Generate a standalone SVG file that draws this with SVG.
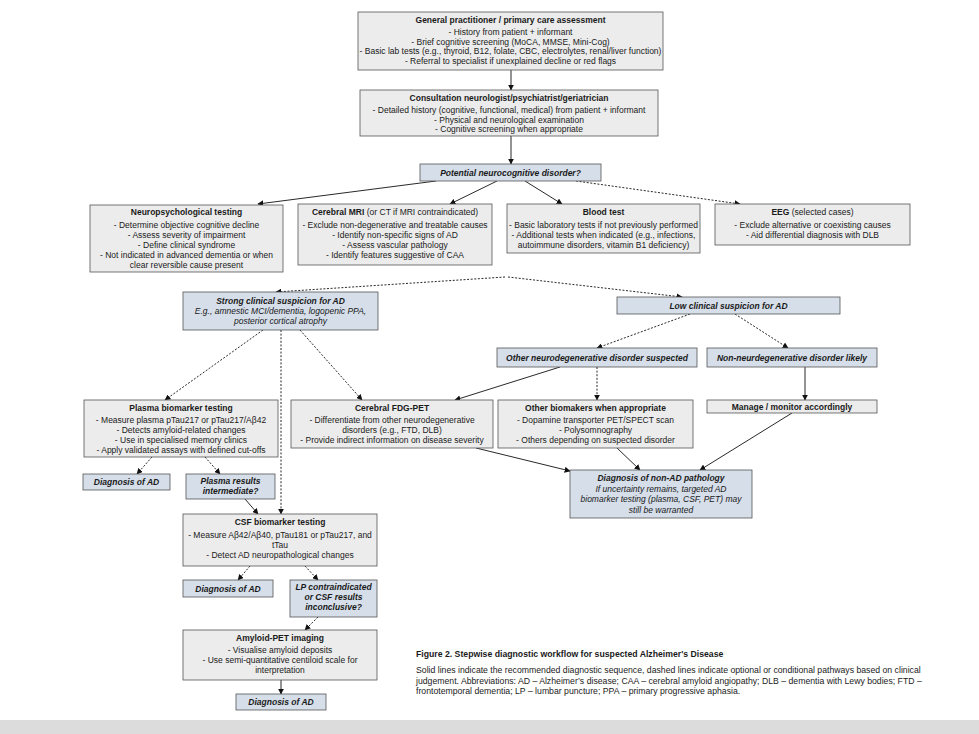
<svg xmlns="http://www.w3.org/2000/svg" width="979" height="734" viewBox="0 0 979 734">
<defs>
<marker id="ah" viewBox="0 0 10 10" refX="9" refY="5" markerWidth="6" markerHeight="6" markerUnits="userSpaceOnUse" orient="auto">
<path d="M0,0 L10,5 L0,10 z" fill="#111"/>
</marker>
<style>
.box{fill:#ececec;stroke:#555;stroke-width:0.8}
.bbox{fill:#d5dee9;stroke:#555;stroke-width:0.8}
.t{font-family:"Liberation Sans",Arial,Helvetica,sans-serif;font-size:8.5px;fill:#1a1a1a;text-anchor:middle}
.b{font-weight:bold}
.i{font-style:italic}
.cap{font-family:"Liberation Sans",Arial,Helvetica,sans-serif;font-size:8.7px;fill:#1a1a1a}
.ln{stroke:#111;stroke-width:0.9;fill:none;marker-end:url(#ah)}
.d{stroke-dasharray:2,1.6}
</style>
</defs>
<rect width="979" height="734" fill="#fff"/>
<rect x="0" y="720" width="979" height="14" fill="#dcdcdc"/>

<g id="connectors">
<line class="ln" x1="511" y1="70" x2="511" y2="90"/>
<line class="ln" x1="511" y1="136" x2="511" y2="164"/>
<line class="ln" x1="436" y1="181" x2="258" y2="204"/>
<line class="ln" x1="497" y1="181" x2="450" y2="204"/>
<line class="ln" x1="525" y1="181" x2="562" y2="204"/>
<line class="ln d" x1="576" y1="181" x2="740" y2="204"/>
<line class="ln d" x1="505" y1="277" x2="276" y2="292"/>
<line class="ln d" x1="508" y1="277" x2="682" y2="297"/>
<line class="ln d" x1="690" y1="314" x2="597" y2="348"/>
<line class="ln d" x1="735" y1="314" x2="788" y2="348"/>
<line class="ln d" x1="263" y1="330" x2="165" y2="400"/>
<line class="ln d" x1="281" y1="330" x2="281" y2="514"/>
<line class="ln d" x1="300" y1="330" x2="362" y2="400"/>
<line class="ln" x1="560" y1="367" x2="455" y2="400"/>
<line class="ln d" x1="597" y1="367" x2="597" y2="400"/>
<line class="ln" x1="805" y1="367" x2="805" y2="400"/>
<line class="ln" x1="476" y1="448" x2="570" y2="471"/>
<line class="ln" x1="617" y1="448" x2="640" y2="470"/>
<line class="ln" x1="792" y1="413" x2="700" y2="470"/>
<line class="ln d" x1="152" y1="457" x2="137" y2="474"/>
<line class="ln d" x1="205" y1="457" x2="220" y2="474"/>
<line class="ln" x1="245" y1="499" x2="258" y2="514"/>
<line class="ln d" x1="250" y1="566" x2="238" y2="580"/>
<line class="ln d" x1="305" y1="566" x2="318" y2="580"/>
<line class="ln d" x1="318" y1="617" x2="305" y2="630"/>
<line class="ln" x1="281" y1="680" x2="281" y2="694"/>
</g>

<g id="gp">
<rect class="box" x="358" y="12" width="305" height="58"/>
<text class="t b" x="510.5" y="23">General practitioner / primary care assessment</text>
<text class="t" x="510.5" y="35">- History from patient + informant</text>
<text class="t" x="510.5" y="44.5">- Brief cognitive screening (MoCA, MMSE, Mini-Cog)</text>
<text class="t" x="510.5" y="54">- Basic lab tests (e.g., thyroid, B12, folate, CBC, electrolytes, renal/liver function)</text>
<text class="t" x="510.5" y="63.5">- Referral to specialist if unexplained decline or red flags</text>
</g>

<g id="consult">
<rect class="box" x="360" y="90" width="298" height="46"/>
<text class="t b" x="509" y="101">Consultation neurologist/psychiatrist/geriatrician</text>
<text class="t" x="509" y="113">- Detailed history (cognitive, functional, medical) from patient + informant</text>
<text class="t" x="509" y="122.5">- Physical and neurological examination</text>
<text class="t" x="509" y="132">- Cognitive screening when appropriate</text>
</g>

<g id="potential">
<rect class="bbox" x="420" y="164" width="181" height="17"/>
<text class="t b i" x="510.5" y="175.5">Potential neurocognitive disorder?</text>
</g>

<g id="neuropsych">
<rect class="box" x="90" y="205" width="193" height="67"/>
<text class="t b" x="186.5" y="215">Neuropsychological testing</text>
<text class="t" x="186.5" y="228">- Determine objective cognitive decline</text>
<text class="t" x="186.5" y="238">- Assess severity of impairment</text>
<text class="t" x="186.5" y="248">- Define clinical syndrome</text>
<text class="t" x="186.5" y="258">- Not indicated in advanced dementia or when</text>
<text class="t" x="186.5" y="268">clear reversible cause present</text>
</g>

<g id="mri">
<rect class="box" x="298" y="204" width="194" height="61"/>
<text class="t" x="395" y="215"><tspan class="b">Cerebral MRI</tspan> (or CT if MRI contraindicated)</text>
<text class="t" x="395" y="228">- Exclude non-degenerative and treatable causes</text>
<text class="t" x="395" y="238">- Identify non-specific signs of AD</text>
<text class="t" x="395" y="248">- Assess vascular pathology</text>
<text class="t" x="395" y="258">- Identify features suggestive of CAA</text>
</g>

<g id="blood">
<rect class="box" x="507" y="204" width="193" height="49"/>
<text class="t b" x="603.5" y="215">Blood test</text>
<text class="t" x="603.5" y="228">- Basic laboratory tests if not previously performed</text>
<text class="t" x="603.5" y="238">- Additional tests when indicated (e.g., infections,</text>
<text class="t" x="603.5" y="248">autoimmune disorders, vitamin B1 deficiency)</text>
</g>

<g id="eeg">
<rect class="box" x="715" y="204" width="195" height="41"/>
<text class="t" x="812.5" y="215"><tspan class="b">EEG</tspan> (selected cases)</text>
<text class="t" x="812.5" y="228">- Exclude alternative or coexisting causes</text>
<text class="t" x="812.5" y="238">- Aid differential diagnosis with DLB</text>
</g>

<g id="strong">
<rect class="bbox" x="183" y="292" width="195" height="38"/>
<text class="t b i" x="280.5" y="303.5">Strong clinical suspicion for AD</text>
<text class="t i" x="280.5" y="314">E.g., amnestic MCI/dementia, logopenic PPA,</text>
<text class="t i" x="280.5" y="324">posterior cortical atrophy</text>
</g>

<g id="low">
<rect class="bbox" x="617" y="297" width="223" height="17"/>
<text class="t b i" x="728.5" y="308.5">Low clinical suspicion for AD</text>
</g>

<g id="otherneuro">
<rect class="bbox" x="497" y="348" width="200" height="19"/>
<text class="t b i" x="597" y="360.5">Other  neurodegenerative disorder suspected</text>
</g>

<g id="nonneuro">
<rect class="bbox" x="707" y="348" width="170" height="19"/>
<text class="t b i" x="792" y="360.5">Non-neurdegenerative disorder likely</text>
</g>

<g id="plasma">
<rect class="box" x="84" y="400" width="194" height="57"/>
<text class="t b" x="181" y="410.5">Plasma biomarker testing</text>
<text class="t" x="181" y="423">-  Measure plasma pTau217 or pTau217/Aβ42</text>
<text class="t" x="181" y="433">- Detects amyloid-related changes</text>
<text class="t" x="181" y="443">- Use in specialised memory clinics</text>
<text class="t" x="181" y="453">- Apply validated assays with defined cut-offs</text>
</g>

<g id="fdg">
<rect class="box" x="291" y="400" width="202" height="48"/>
<text class="t b" x="392" y="410.5">Cerebral FDG-PET</text>
<text class="t" x="392" y="423">- Differentiate from other neurodegenerative</text>
<text class="t" x="392" y="433">disorders (e.g., FTD, DLB)</text>
<text class="t" x="392" y="443">- Provide indirect information on disease severity</text>
</g>

<g id="otherbio">
<rect class="box" x="498" y="400" width="195" height="48"/>
<text class="t b" x="595.5" y="410.5">Other biomakers when appropriate</text>
<text class="t" x="595.5" y="423">- Dopamine transporter PET/SPECT scan</text>
<text class="t" x="595.5" y="433">- Polysomnography</text>
<text class="t" x="595.5" y="443">- Others depending on suspected disorder</text>
</g>

<g id="manage">
<rect class="box" x="707" y="400" width="170" height="13"/>
<text class="t b" x="792" y="409.8">Manage / monitor accordingly</text>
</g>

<g id="nonad">
<rect class="bbox" x="570" y="470" width="182" height="48"/>
<text class="t b i" x="661" y="481">Diagnosis of non-AD pathology</text>
<text class="t i" x="661" y="491.5">If uncertainty remains, targeted AD</text>
<text class="t i" x="661" y="502">biomarker testing (plasma, CSF, PET) may</text>
<text class="t i" x="661" y="512.5">still be warranted</text>
</g>

<g id="diagad1">
<rect class="bbox" x="83" y="474" width="87" height="16"/>
<text class="t b i" x="126.5" y="485">Diagnosis of AD</text>
</g>

<g id="plasmaint">
<rect class="bbox" x="186" y="474" width="89" height="25"/>
<text class="t b i" x="230.5" y="484">Plasma results</text>
<text class="t b i" x="230.5" y="494">intermediate?</text>
</g>

<g id="csf">
<rect class="box" x="183" y="514" width="194" height="52"/>
<text class="t b" x="280" y="525">CSF biomarker testing</text>
<text class="t" x="280" y="538">- Measure Aβ42/Aβ40, pTau181 or pTau217, and</text>
<text class="t" x="280" y="548">tTau</text>
<text class="t" x="280" y="558">- Detect AD neuropathological changes</text>
</g>

<g id="diagad2">
<rect class="bbox" x="183" y="580" width="90" height="17"/>
<text class="t b i" x="228" y="591.5">Diagnosis of AD</text>
</g>

<g id="lp">
<rect class="bbox" x="290" y="580" width="87" height="37"/>
<text class="t b i" x="333.5" y="590">LP contraindicated</text>
<text class="t b i" x="333.5" y="600">or CSF results</text>
<text class="t b i" x="333.5" y="610">inconclusive?</text>
</g>

<g id="amyloid">
<rect class="box" x="183" y="630" width="194" height="50"/>
<text class="t b" x="280" y="641">Amyloid-PET imaging</text>
<text class="t" x="280" y="653">- Visualise amyloid deposits</text>
<text class="t" x="280" y="663">- Use semi-quantitative centiloid scale for</text>
<text class="t" x="280" y="673">interpretation</text>
</g>

<g id="diagad3">
<rect class="bbox" x="236" y="694" width="90" height="16"/>
<text class="t b i" x="281" y="705">Diagnosis of AD</text>
</g>

<g id="caption">
<text class="cap" x="416" y="657" font-weight="bold" font-size="9px">Figure 2. Stepwise diagnostic workflow for suspected Alzheimer's Disease</text>
<text class="cap" x="416" y="673">Solid lines indicate the recommended diagnostic sequence, dashed lines indicate optional or conditional pathways based on clinical</text>
<text class="cap" x="416" y="683.5">judgement. Abbreviations: AD – Alzheimer’s disease; CAA – cerebral amyloid angiopathy; DLB – dementia with Lewy bodies; FTD –</text>
<text class="cap" x="416" y="694">frontotemporal dementia; LP – lumbar puncture; PPA – primary progressive aphasia.</text>
</g>
</svg>
